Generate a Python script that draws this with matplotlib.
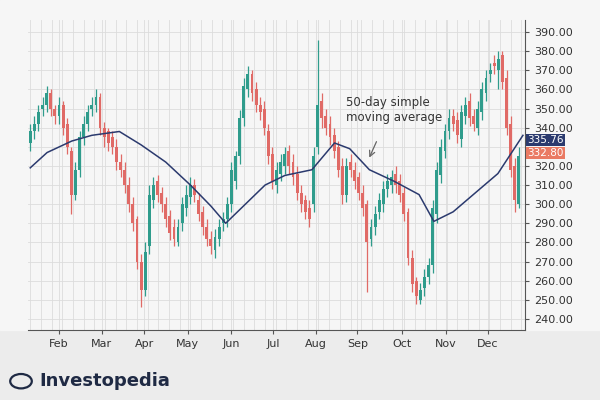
import matplotlib.pyplot as plt
import numpy as np
from matplotlib.patches import Circle

COLORS = {
    "up": "#2f9c8c",
    "down": "#e06a66",
    "ma": "#2b3a6e",
    "grid": "#dcdcdc",
    "bg": "#f6f6f6",
    "band": "#ececec",
    "dark": "#1f2a44",
}

opens = [332, 338, 342, 350, 352, 358, 350, 346, 352, 342,
         328, 305, 318, 335, 342, 350, 352, 356, 340, 338,
         335, 330, 322, 318, 310, 300, 292, 270, 255, 278,
         302, 312, 306, 300, 294, 288, 280, 290, 298, 304,
         310, 302, 296, 288, 282, 276, 282, 290, 292, 300,
         312, 325, 345, 360, 368, 360, 352, 350, 338, 326,
         310, 316, 320, 328, 322, 316, 306, 302, 298, 300,
         330, 354, 346, 342, 336, 330, 320, 305, 322, 318,
         314, 306, 300, 282, 288, 296, 300, 308, 310, 316,
         312, 306, 296, 272, 260, 250, 256, 262, 268, 295,
         315, 328, 338, 346, 344, 334, 346, 354, 346, 340,
         348, 358, 368, 374, 370, 378, 366, 342, 320, 300]
closes = [338, 342, 348, 352, 358, 350, 346, 352, 340, 330,
          305, 318, 335, 342, 348, 352, 356, 340, 335, 332,
          330, 322, 318, 310, 300, 290, 270, 255, 275, 305,
          310, 305, 300, 292, 285, 282, 288, 300, 305, 310,
          305, 295, 288, 282, 278, 283, 288, 292, 300, 318,
          325, 345, 362, 368, 358, 352, 348, 340, 325, 312,
          318, 322, 326, 320, 314, 306, 300, 296, 292, 325,
          352, 345, 340, 335, 328, 318, 305, 320, 318, 312,
          306, 298, 280, 288, 295, 302, 308, 312, 314, 310,
          305, 295, 272, 258, 252, 255, 262, 268, 298, 318,
          330, 338, 345, 342, 336, 348, 352, 345, 342, 350,
          360, 366, 370, 372, 376, 364, 340, 318, 302, 325]
highs = [342, 346, 352, 356, 362, 360, 352, 356, 354, 345,
         330, 322, 338, 346, 352, 356, 360, 358, 343, 340,
         338, 334, 326, 322, 314, 304, 294, 274, 280, 310,
         314, 315, 309, 304, 297, 292, 292, 304, 310, 314,
         313, 306, 299, 292, 286, 287, 292, 296, 304, 322,
         328, 349, 366, 372, 370, 364, 356, 354, 342, 330,
         322, 326, 330, 331, 326, 320, 310, 305, 302, 330,
         386, 358, 350, 346, 340, 333, 324, 324, 326, 322,
         317, 310, 302, 292, 299, 306, 312, 316, 318, 320,
         316, 309, 298, 276, 262, 259, 266, 272, 302, 322,
         334, 342, 350, 350, 348, 352, 356, 358, 350, 354,
         364, 370, 374, 378, 380, 380, 370, 346, 324, 330]
lows = [328, 334, 338, 346, 348, 346, 342, 342, 336, 326,
        295, 302, 314, 331, 338, 346, 348, 336, 330, 328,
        326, 318, 314, 306, 296, 286, 266, 246, 252, 274,
        298, 301, 296, 288, 281, 278, 278, 286, 294, 300,
        301, 291, 284, 278, 274, 272, 278, 286, 288, 296,
        308, 321, 341, 356, 354, 348, 344, 336, 321, 308,
        306, 312, 316, 316, 310, 302, 296, 292, 288, 296,
        326, 340, 336, 331, 324, 314, 300, 301, 314, 308,
        302, 294, 254, 278, 284, 292, 296, 304, 306, 306,
        301, 291, 268, 254, 248, 248, 252, 258, 264, 290,
        311, 324, 334, 338, 332, 330, 342, 341, 338, 336,
        344, 354, 364, 368, 360, 360, 336, 314, 296, 298]

ma_idx = [0, 4.1, 10.1, 15, 21.7, 27, 33, 39, 44, 47.6, 52.4, 57.2,
          62, 68.6, 74.1, 77.8, 82.6, 88.6, 94.7, 98.3, 103, 107.9, 113.9, 120]
ma_val = [319, 327, 333, 336, 338, 331, 322, 310, 299, 290, 300, 310,
          315, 318, 332, 329, 318, 312, 305, 291, 296, 305, 316, 336]

months = ["Feb", "Mar", "Apr", "May", "Jun", "Jul", "Aug", "Sep", "Oct", "Nov", "Dec"]
month_pos = [7.0, 17.4, 27.8, 38.4, 49.0, 59.2, 69.5, 79.7, 90.5, 101.2, 111.5]
yticks = np.arange(240, 391, 10)
last_prices = [335.76, 332.80]

fig = plt.figure(figsize=(6, 4), dpi=100, facecolor=COLORS["band"])
ax = fig.add_axes([0.047, 0.175, 0.828, 0.775])
ax.set_facecolor(COLORS["bg"])
fig.patches.append(plt.Rectangle((0, 0.175), 1, 0.825, transform=fig.transFigure,
                                 color=COLORS["bg"], zorder=-10))

x = np.arange(len(closes))
for i in x:
    o, c, h, l = opens[i], closes[i], highs[i], lows[i]
    col = COLORS["up"] if c >= o else COLORS["down"]
    ax.vlines(i, l, h, color=col, linewidth=0.9, zorder=3)
    ax.bar(i, max(abs(c - o), 0.8), bottom=min(o, c), width=0.7, color=col, zorder=3)

ax.plot(ma_idx, ma_val, color=COLORS["ma"], linewidth=1.1, zorder=4)

ax.set_xlim(-0.5, 120.5)
ax.set_ylim(234.2, 396.3)
ax.yaxis.tick_right()
ax.set_yticks(yticks)
# the 330 label sits under the price tags, so leave it blank
ax.set_yticklabels(["" if v == 330 else f"{v:.2f}" for v in yticks], fontsize=8, color="#333333")
ax.set_xticks(month_pos)
ax.set_xticklabels(months, fontsize=8, color="#333333")
ax.set_xticks(np.arange(0, 121, 2.6), minor=True)
ax.tick_params(axis="x", which="major", length=3, color="#555555")
ax.tick_params(axis="x", which="minor", length=0)
ax.tick_params(axis="y", length=3, color="#555555")
ax.grid(True, which="both", color=COLORS["grid"], linewidth=0.6, zorder=0)
for s in ["top", "left"]:
    ax.spines[s].set_visible(False)
ax.spines["right"].set_color("#555555")
ax.spines["bottom"].set_color("#555555")

tag_y = [333.6, 326.8]
tag_col = [COLORS["ma"], "#ea7a63"]
for p, yy, col in zip(last_prices, tag_y, tag_col):
    ax.text(1.005, yy, f"{p:.2f}", fontsize=7.5, color="white", ha="left", va="center",
            transform=ax.get_yaxis_transform(), clip_on=False,
            bbox=dict(boxstyle="square,pad=0.12", fc=col, ec="none"))

ax.text(77, 349, "50-day simple\nmoving average", fontsize=8.5, color="#333333", va="center")
ax.annotate("", xy=(82.3, 323), xytext=(84.6, 334),
            arrowprops=dict(arrowstyle="->", color="#666666", lw=0.9))

fig.patches.append(Circle((0.035, 0.047), 0.018, transform=fig.transFigure,
                          fc="none", ec=COLORS["dark"], lw=1.6))
fig.text(0.065, 0.047, "Investopedia", fontsize=13, fontweight="bold", color=COLORS["dark"],
         va="center")

fig.savefig("out.png", dpi=100, facecolor=fig.get_facecolor())
